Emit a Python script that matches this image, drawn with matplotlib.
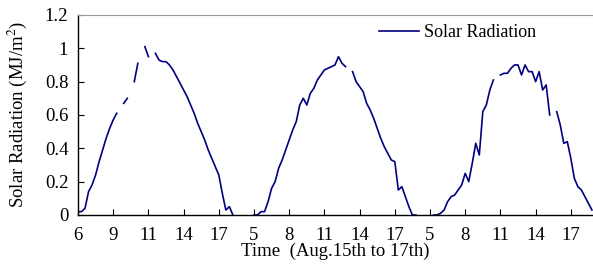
import numpy as np
import matplotlib
matplotlib.use('Agg')
import matplotlib.pyplot as plt

plt.rcParams['font.family'] = 'Liberation Serif'
plt.rcParams['mathtext.fontset'] = 'stix'

nan = np.nan
# solar radiation (MJ/m2), 10 readings per tick interval, blanks = missing data
day1 = [0.02, 0.02, 0.04, 0.14, 0.18, 0.24, 0.32, 0.39, 0.46, 0.52,
        0.57, 0.61, nan, 0.67, 0.70, nan, 0.80, 0.91, nan, 1.01,
        0.95, nan, 0.97, 0.93, 0.92, 0.92, 0.90, 0.87, 0.83, 0.79,
        0.75, 0.71, 0.66, 0.61, 0.55, 0.50, 0.45, 0.39, 0.34, 0.29,
        0.24, 0.13, 0.03, 0.05, 0.00]
night1 = [nan] * 5
day2 = [0.00, 0.00, 0.02, 0.02, 0.08, 0.16, 0.20, 0.28, 0.33, 0.39,
        0.45, 0.51, 0.56, 0.66, 0.70, 0.66, 0.73, 0.76, 0.81, 0.84,
        0.87, 0.88, 0.89, 0.90, 0.95, 0.91, 0.89, nan, 0.86, 0.80,
        0.77, 0.74, 0.67, 0.63, 0.58, 0.52, 0.46, 0.41, 0.37, 0.33,
        0.32, 0.15, 0.17, 0.11, 0.05, 0.00, 0.00]
night2 = [nan] * 4
day3 = [0.00, 0.00, 0.01, 0.03, 0.08, 0.11, 0.12, 0.15, 0.18, 0.25,
        0.20, 0.31, 0.43, 0.36, 0.62, 0.66, 0.75, 0.81, nan, 0.84,
        0.85, 0.85, 0.88, 0.90, 0.90, 0.84, 0.90, 0.86, 0.86, 0.80,
        0.86, 0.75, 0.78, 0.60, nan, 0.62, 0.54, 0.43, 0.44, 0.34,
        0.22, 0.17, 0.15, 0.11, 0.07, 0.03]

radiation = day1 + night1 + day2 + night2 + day3
hour_labels = ['6', '9', '11', '14', '17', '5', '8', '11', '14', '17',
               '5', '8', '11', '14', '17']
per_tick = 10

x = np.arange(len(radiation))

fig = plt.figure(figsize=(5.93, 2.72), dpi=100)
ax = fig.add_axes([0.1315, 0.2096, 0.8685, 0.7354])

ax.plot(x, radiation, color='#000080', lw=1.2, label='Solar Radiation')

ax.set_xlim(0, 146.3)
ax.set_ylim(0, 1.2)
ax.set_xticks(np.arange(len(hour_labels)) * per_tick)
ax.set_xticklabels(hour_labels)
ax.set_yticks([0, 0.2, 0.4, 0.6, 0.8, 1.0, 1.2])
ax.set_yticklabels(['0', '0.2', '0.4', '0.6', '0.8', '1', '1.2'])
ax.tick_params(direction='in', labelsize=13.5, length=4, width=0.8)
ax.tick_params(axis='y', pad=7)
ax.tick_params(axis='x', pad=8.5)

ax.spines['right'].set_visible(False)
ax.spines['top'].set_color('#999999')
ax.spines['left'].set_linewidth(1.0)
ax.spines['bottom'].set_linewidth(1.0)

ax.set_ylabel('Solar Radiation (MJ/m$^2$)', fontsize=13.5, labelpad=11)
ax.set_xlabel('Time  (Aug.15th to 17th)', fontsize=13.5, labelpad=-1)

ax.legend(loc='center left', bbox_to_anchor=(0.585, 0.91), frameon=False,
          fontsize=13, handlelength=2.2, handletextpad=0.25,
          borderpad=0, borderaxespad=0)

fig.savefig('out.png', dpi=100)
